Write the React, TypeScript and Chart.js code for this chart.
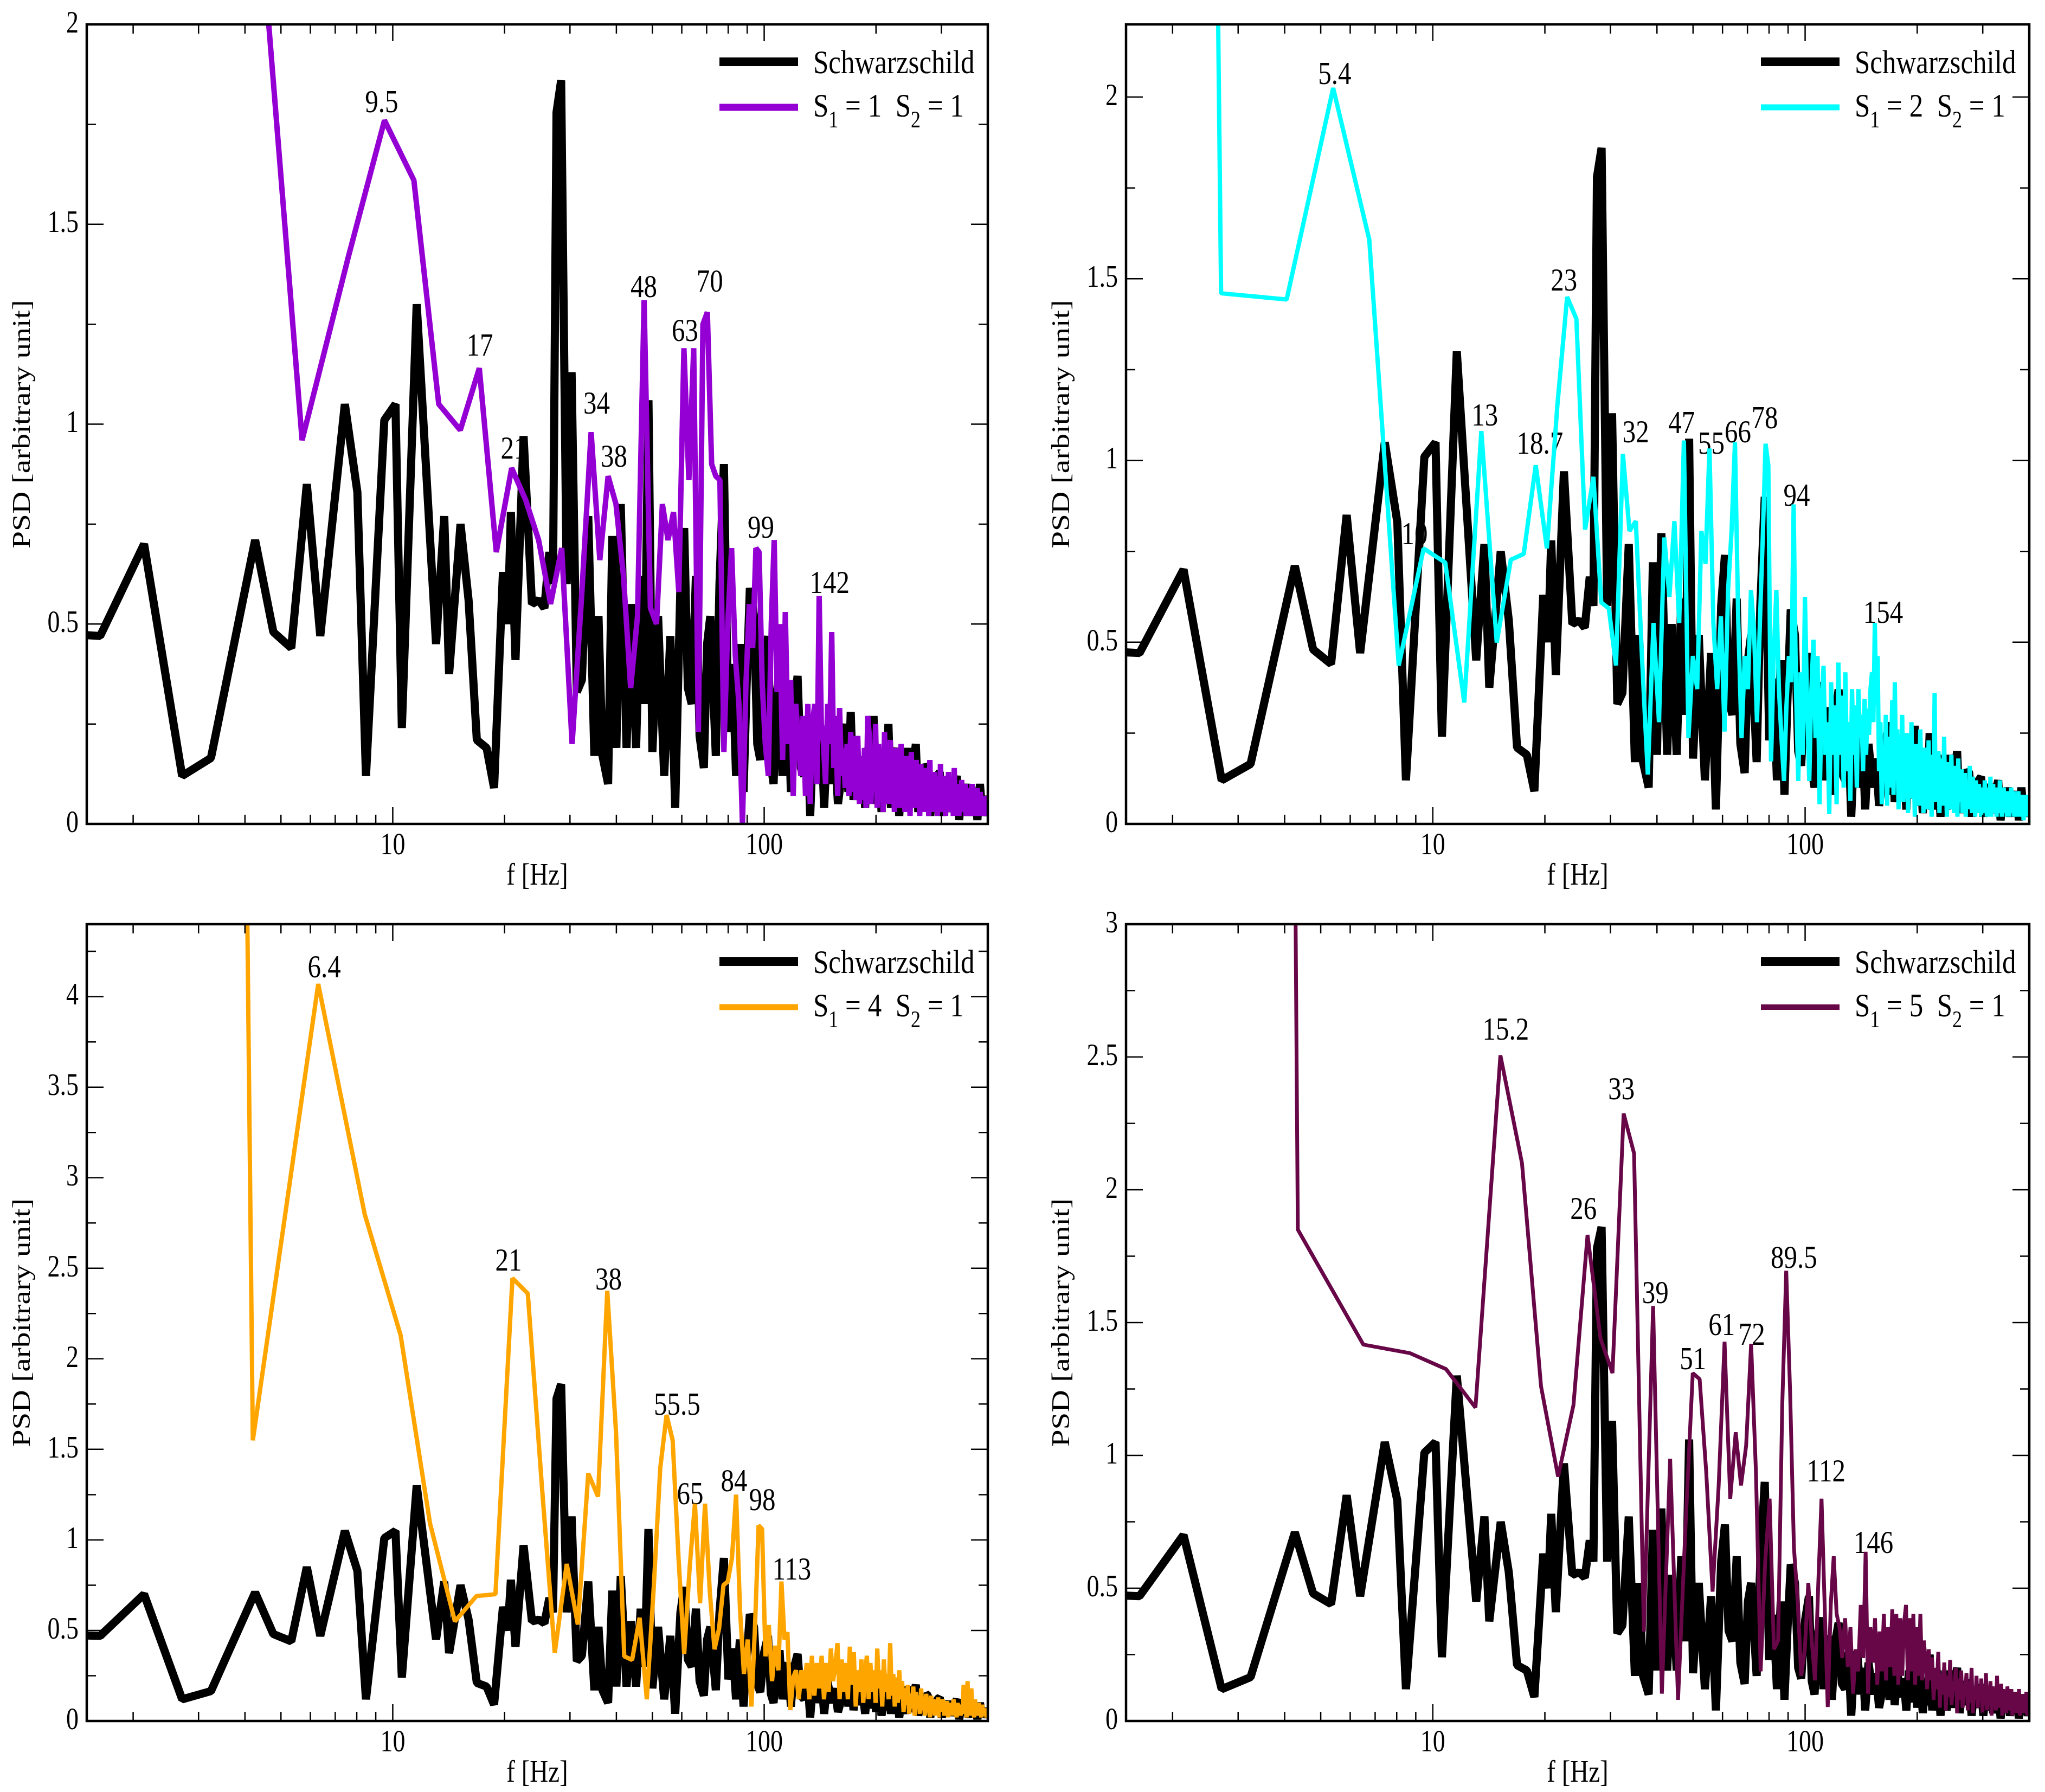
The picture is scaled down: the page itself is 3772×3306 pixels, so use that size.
import { useEffect, useRef } from "react";
import { Chart, registerables, type ChartConfiguration, type Plugin } from "chart.js";

Chart.register(...registerables);

const SERIF = '"Liberation Serif", "Times New Roman", serif';
// the original figure is stretched vertically; text is drawn with the same stretch
const TEXT_STRETCH = 1.22;

// Schwarzschild spectrum, identical in every panel
const schwFreq = [
  1.09, 1.63, 2.14, 2.71, 3.24, 4.26, 4.77, 5.33, 5.87, 6.38, 7.43, 8.03, 8.47, 9.49, 10.17, 10.58, 11.6,
  13.08, 13.76, 14.18, 15.22, 16.0, 16.84, 17.89, 18.74, 19.8, 20.4, 20.8, 21.4, 22.5, 23.7, 24.7, 25.6, 26.4, 27.0, 27.6, 28.4, 29.4, 30.3, 31.3,
  32.3, 33.6, 34.9, 35.8, 36.7, 38.0, 39.0, 40.0, 41.1, 42.6, 43.8, 45.2, 46.5, 47.6, 48.8, 50.0, 51.8, 53.8, 55.9, 57.6, 59.5,
  60.9, 62.3, 63.8, 65.5, 67.0, 68.8, 70.2, 71.6, 74.1, 75.8, 77.9, 80.1, 82.2, 84.0, 86.0, 88.0, 89.7, 91.5, 93.9, 95.8, 97.6,
  100, 102.4, 104.2, 106, 108, 110, 112, 114, 116, 118, 120.5, 123, 125.5, 128, 130.5, 133, 135.5, 138, 141, 143, 145, 148, 152, 155, 158, 160,
  163, 166, 168.5, 171, 174, 177, 181, 184, 187, 190, 194, 197, 200, 203.5, 207, 210, 213, 216, 219.5, 223, 227, 231, 235, 240, 244, 248, 252, 256,
  260, 264.5, 269, 272.5, 276, 280, 284, 288, 292.5, 297, 301, 305.5, 310, 315, 320, 325, 330, 335, 340, 345, 350, 355, 360, 365, 370, 375, 381, 386, 391, 396, 400,
];
const schwPsd = [
  0.48, 0.47, 0.7, 0.12, 0.165, 0.71, 0.48, 0.44, 0.85, 0.47, 1.05, 0.83, 0.12, 1.01, 1.05, 0.24, 1.3,
  0.45, 0.77, 0.375, 0.75, 0.56, 0.21, 0.19, 0.09, 0.63, 0.5, 0.78, 0.41, 0.97, 0.55, 0.56, 0.54, 0.68, 0.6, 1.78, 1.86, 0.6, 1.13, 0.33,
  0.36, 0.77, 0.17, 0.52, 0.17, 0.1, 0.72, 0.19, 0.8, 0.19, 0.55, 0.19, 0.62, 0.3, 1.06, 0.18, 0.52, 0.12, 0.47, 0.04, 0.6,
  0.74, 0.34, 0.3, 0.62, 0.22, 0.14, 0.45, 0.52, 0.17, 0.6, 0.9, 0.23, 0.4, 0.12, 0.45, 0.08, 0.35, 0.59, 0.52, 0.2, 0.16,
  0.38, 0.47, 0.15, 0.1, 0.32, 0.39, 0.12, 0.28, 0.32, 0.08, 0.3, 0.37, 0.14, 0.12, 0.26, 0.02, 0.22, 0.26, 0.1, 0.2, 0.04, 0.22, 0.1, 0.18, 0.05, 0.09,
  0.2, 0.25, 0.08, 0.28, 0.06, 0.18, 0.09, 0.16, 0.04, 0.19, 0.07, 0.27, 0.05, 0.18, 0.03, 0.12, 0.06, 0.25, 0.04, 0.15, 0.19, 0.02, 0.14, 0.04, 0.19, 0.05, 0.14, 0.2,
  0.03, 0.12, 0.06, 0.15, 0.14, 0.02, 0.11, 0.05, 0.12, 0.13, 0.02, 0.1, 0.04, 0.11, 0.03, 0.09, 0.12, 0.01, 0.09, 0.04, 0.1, 0.02, 0.08, 0.05, 0.09, 0.01, 0.1, 0.03, 0.07, 0.02, 0.05,
];

// S1 = 1, S2 = 1 : FFT bins of 1.9 Hz, starting at bin 2
const s11Df = 1.9;
const s11FirstBin = 2;
const s11Psd = [
  3.0, 0.96, 1.42, 1.76, 1.61, 1.05, 0.985, 1.14, 0.68, 0.89, 0.81, 0.71, 0.55, 0.69, 0.2, 0.58, 0.98, 0.66, 0.87, 0.8,
  0.62, 0.34, 0.52, 1.31, 0.54, 0.5, 0.8, 0.71, 0.78, 0.58, 1.19, 0.86, 1.19, 0.23, 1.25, 1.28,
  0.9, 0.87, 0.86, 0.18, 0.5, 0.69, 0.42, 0.3, 0.0, 0.35, 0.55, 0.44, 0.69, 0.68, 0.35, 0.2, 0.12, 0.5, 0.71, 0.33,
  0.5, 0.16, 0.53, 0.2, 0.36, 0.07, 0.3, 0.22, 0.12, 0.27, 0.07, 0.3, 0.05, 0.25, 0.3, 0.1, 0.57, 0.25, 0.2, 0.1,
  0.3, 0.2, 0.48, 0.14, 0.27, 0.07, 0.29, 0.12, 0.19, 0.09, 0.2, 0.07, 0.23, 0.08, 0.22, 0.06, 0.22, 0.05, 0.17, 0.06,
  0.19, 0.04, 0.27,
  0.22, 0.05, 0.18, 0.09, 0.25, 0.04, 0.2, 0.08, 0.14, 0.03, 0.23, 0.07, 0.17, 0.05, 0.21, 0.1, 0.13, 0.03, 0.19, 0.06,
  0.16, 0.04, 0.2, 0.08, 0.12, 0.03, 0.17, 0.06, 0.15, 0.02, 0.18, 0.07, 0.11, 0.04, 0.16, 0.05, 0.13, 0.02, 0.15, 0.06,
  0.1, 0.03, 0.14, 0.05, 0.12, 0.02, 0.16, 0.04, 0.09, 0.03, 0.13, 0.05, 0.11, 0.02, 0.12, 0.04, 0.15, 0.03, 0.08, 0.05,
  0.12, 0.02, 0.1, 0.04, 0.13, 0.03, 0.09, 0.05, 0.11, 0.02, 0.14, 0.03, 0.08, 0.04, 0.1, 0.02, 0.09, 0.05, 0.11, 0.03,
  0.07, 0.04, 0.1, 0.02, 0.08, 0.05, 0.09, 0.02, 0.07, 0.03, 0.1, 0.04, 0.06, 0.02, 0.08, 0.03, 0.09, 0.04, 0.06, 0.02,
  0.08, 0.03, 0.07, 0.05, 0.06, 0.02, 0.07, 0.03, 0.05, 0.04,
];
const s11PeakText = ["9.5", "17", "21", "34", "38", "48", "63", "70", "99", "142"];
const s11PeakFreq = [9.33, 17.15, 21.2, 35.4, 39.4, 47.4, 61.2, 71.4, 98, 150];
const s11PeakPsd = [1.78, 1.172, 0.914, 1.026, 0.893, 1.318, 1.208, 1.332, 0.716, 0.577];

// S1 = 2, S2 = 1 : bins of 1.35 Hz
const s21Df = 1.35;
const s21FirstBin = 1;
const s21Psd = [
  30, 1.46, 1.443, 2.025, 1.608, 0.436, 0.758, 0.719, 0.334, 1.081, 0.499, 0.727, 0.743, 0.987, 0.758, 1.15, 1.45, 1.39, 0.81, 0.955,
  0.609, 0.593, 0.436, 1.018, 0.806, 0.833, 0.462, 0.136, 0.553, 0.28,
  0.788, 0.625, 0.833, 0.553, 1.055, 0.236, 0.462, 0.371, 0.806, 0.716, 1.033, 0.553, 0.371, 0.571, 0.254, 0.643, 0.806, 1.05, 0.553, 0.236,
  0.462, 0.371, 0.643, 0.534, 0.28, 0.553, 0.788, 1.046, 0.987, 0.172,
  0.462, 0.643, 0.371, 0.236, 0.118, 0.326, 0.462, 0.39, 0.879, 0.371, 0.118, 0.417, 0.19, 0.625, 0.326, 0.118, 0.371, 0.507, 0.236, 0.462,
  0.054, 0.326, 0.435, 0.19, 0.28, 0.027, 0.39, 0.19, 0.326, 0.054,
  0.444, 0.19, 0.353, 0.1, 0.417, 0.145, 0.28, 0.063, 0.371, 0.19, 0.326, 0.1, 0.371, 0.236, 0.3, 0.145, 0.344, 0.19, 0.317, 0.245,
  0.371, 0.417, 0.28, 0.553, 0.326, 0.462, 0.145, 0.28, 0.054, 0.19,
  0.12, 0.3, 0.05, 0.24, 0.1, 0.2, 0.34, 0.08, 0.39, 0.15, 0.26, 0.04, 0.22, 0.12, 0.3, 0.06, 0.18, 0.1, 0.25, 0.03,
  0.2, 0.13, 0.28, 0.07, 0.16, 0.02, 0.22, 0.09,
  0.18, 0.05, 0.26, 0.12, 0.15, 0.03, 0.21, 0.1, 0.17, 0.04, 0.23, 0.08, 0.14, 0.02, 0.19, 0.11, 0.36, 0.06, 0.16, 0.09,
  0.2, 0.03, 0.13, 0.1, 0.18, 0.05, 0.24, 0.07, 0.12, 0.02, 0.17, 0.08, 0.14, 0.04, 0.19, 0.06, 0.11,
  0.03, 0.16, 0.09, 0.13, 0.02, 0.18, 0.06, 0.12, 0.08, 0.15, 0.03, 0.11, 0.07, 0.14, 0.02, 0.12, 0.09, 0.1, 0.04, 0.16,
  0.06, 0.09, 0.03, 0.13, 0.05, 0.1, 0.02, 0.12, 0.07, 0.08, 0.03, 0.11, 0.05, 0.09, 0.02, 0.1, 0.06,
  0.08, 0.03, 0.12, 0.05, 0.07, 0.02, 0.1, 0.04, 0.09, 0.06, 0.13, 0.02, 0.08, 0.05, 0.11, 0.03, 0.07, 0.04, 0.1, 0.02,
  0.09, 0.06, 0.08, 0.03, 0.12, 0.04, 0.07, 0.02, 0.09, 0.05, 0.1, 0.03, 0.06, 0.04, 0.08, 0.02, 0.09, 0.05,
  0.07, 0.02, 0.08, 0.04, 0.1, 0.03, 0.06, 0.05, 0.09, 0.02, 0.07, 0.04, 0.08, 0.03, 0.06, 0.02, 0.09, 0.04, 0.07, 0.03,
  0.05, 0.02, 0.08, 0.04, 0.06, 0.01, 0.07, 0.03, 0.05, 0.04, 0.08, 0.02, 0.05, 0.03, 0.06, 0.02,
];
const s21PeakText = ["5.4", "10", "13", "18.7", "23", "32", "47", "55", "66", "78", "94", "154"];
const s21PeakFreq = [5.45, 8.93, 13.8, 19.4, 22.5, 35.1, 46.6, 56, 66, 77.9, 94.9, 162];
const s21PeakPsd = [2.036, 0.77, 1.097, 1.018, 1.467, 1.05, 1.076, 1.018, 1.05, 1.089, 0.876, 0.554];

// S1 = 4, S2 = 1 : bins of 2.1 Hz
const s41Df = 2.1;
const s41FirstBin = 1;
const s41Psd = [
  60, 1.55, 4.07, 2.8, 2.13, 1.09, 0.55, 0.69, 0.7, 2.445, 2.36, 1.3, 0.376, 0.867, 0.533, 1.367, 1.239, 2.376, 1.6, 0.357,
  0.337, 0.57, 0.12, 0.73, 1.396, 1.69, 1.55, 0.9, 0.37, 0.847,
  1.2, 0.65, 1.2, 0.71, 0.396, 0.51, 0.75, 0.77, 0.9, 1.25, 0.61, 0.26, 0.45, 0.08, 0.53, 1.08, 1.06, 0.357, 0.53, 0.22,
  0.416, 0.28, 0.77, 0.45, 0.49, 0.06, 0.24, 0.28, 0.12, 0.28,
  0.18, 0.32, 0.12, 0.36, 0.14, 0.32, 0.18, 0.36, 0.12, 0.32, 0.16, 0.4, 0.22, 0.3, 0.43, 0.12, 0.34, 0.16, 0.32, 0.12,
  0.41, 0.2, 0.38, 0.08, 0.28, 0.16, 0.34, 0.1, 0.26, 0.36,
  0.12, 0.32, 0.16, 0.28, 0.1, 0.4, 0.18, 0.28, 0.08, 0.34, 0.16, 0.26, 0.12, 0.43, 0.14, 0.26, 0.08, 0.24, 0.1, 0.28,
  0.12, 0.22, 0.05, 0.18, 0.09, 0.2, 0.04, 0.15, 0.07, 0.19, 0.03, 0.16, 0.08, 0.14, 0.04, 0.18, 0.06, 0.12, 0.03, 0.15,
  0.07, 0.11, 0.02, 0.14, 0.05, 0.12, 0.03, 0.1, 0.06, 0.13, 0.02, 0.09, 0.05, 0.12, 0.03, 0.08, 0.06, 0.11, 0.02, 0.1,
  0.04, 0.09, 0.03, 0.12, 0.05, 0.08, 0.02, 0.1, 0.04, 0.07, 0.03, 0.09, 0.05, 0.2, 0.04, 0.08, 0.02, 0.22, 0.06, 0.1,
  0.03, 0.18, 0.05, 0.08, 0.02, 0.12, 0.04, 0.07, 0.03, 0.1, 0.05, 0.08, 0.02, 0.09, 0.04, 0.06, 0.03, 0.07, 0.02, 0.05,
];
const s41PeakText = ["6.4", "21", "38", "55.5", "65", "84", "98", "113"];
const s41PeakFreq = [6.54, 20.5, 38.1, 58.3, 63.2, 83, 98.8, 118.6];
const s41PeakPsd = [4.107, 2.486, 2.382, 1.69, 1.196, 1.268, 1.164, 0.78];

// S1 = 5, S2 = 1 : bins of 2.17 Hz
const s51Df = 2.17;
const s51FirstBin = 1;
const s51Psd = [
  60, 1.85, 1.417, 1.385, 1.325, 1.18, 2.506, 2.1, 1.26, 0.92, 1.19, 1.83, 1.44, 1.31, 2.287, 2.137, 0.337, 1.562, 0.103, 0.987,
  0.08, 0.737, 1.31, 1.287, 0.937, 0.487, 0.887, 1.428, 0.837, 1.087,
  0.887, 1.037, 1.42, 0.937, 0.187, 0.6, 0.837, 0.27, 0.303, 1.187, 1.695, 1.237, 0.653, 0.453, 0.17, 0.27, 0.52, 0.303, 0.153, 0.52,
  0.837, 0.437, 0.053, 0.437, 0.62, 0.403, 0.353, 0.237, 0.387, 0.203,
  0.353, 0.103, 0.27, 0.187, 0.437, 0.237, 0.637, 0.103, 0.353, 0.22, 0.387, 0.137, 0.337, 0.187, 0.403, 0.153, 0.353, 0.203, 0.42, 0.17,
  0.403, 0.137, 0.387, 0.17, 0.37, 0.437, 0.153, 0.387, 0.187, 0.403, 0.137, 0.353, 0.17, 0.403, 0.153, 0.303, 0.237, 0.12, 0.27, 0.153,
  0.24, 0.08, 0.2, 0.12, 0.26, 0.05, 0.18, 0.1, 0.22, 0.04, 0.17, 0.09, 0.23, 0.06, 0.15, 0.11, 0.2, 0.03, 0.16, 0.08,
  0.19, 0.05, 0.14, 0.1, 0.18, 0.04, 0.15, 0.07, 0.2, 0.03, 0.13, 0.08, 0.17, 0.05, 0.12, 0.09, 0.16, 0.03, 0.14, 0.06,
  0.18, 0.04, 0.11, 0.08, 0.15, 0.02, 0.13, 0.06, 0.12, 0.04, 0.17, 0.05, 0.1, 0.07, 0.14, 0.02, 0.12, 0.05, 0.11, 0.03,
  0.13, 0.06, 0.09, 0.04, 0.12, 0.02, 0.1, 0.05, 0.11, 0.03, 0.09, 0.06, 0.12, 0.02, 0.08, 0.05, 0.1, 0.03, 0.09, 0.04,
  0.11, 0.02, 0.07, 0.05,
];
const s51PeakText = ["15.2", "33", "26", "39", "51", "61", "72", "89.5", "112", "146"];
const s51PeakFreq = [15.7, 32.1, 25.4, 39.6, 50, 59.7, 71.9, 93.3, 113.8, 152.6];
const s51PeakPsd = [2.566, 2.34, 1.89, 1.574, 1.325, 1.454, 1.417, 1.707, 0.902, 0.633];

// axis ticks
const xLabelTicks = [10, 100];
const xMinorTicks = [2, 3, 4, 5, 6, 7, 8, 9, 20, 30, 40, 50, 60, 70, 80, 90, 200, 300];
const yTicksS11 = [0, 0.5, 1, 1.5, 2];
const yTicksS21 = [0, 0.5, 1, 1.5, 2];
const yTicksS41 = [0, 0.5, 1, 1.5, 2, 2.5, 3, 3.5, 4];
const yTicksS51 = [0, 0.5, 1, 1.5, 2, 2.5, 3];

type Ctx = CanvasRenderingContext2D;

function stretchedText(
  ctx: Ctx,
  text: string,
  x: number,
  y: number,
  size: number,
  align: CanvasTextAlign,
  baseline: CanvasTextBaseline,
  rotated = false,
): void {
  ctx.save();
  ctx.translate(x, y);
  ctx.scale(1, TEXT_STRETCH);
  if (rotated) ctx.rotate(-Math.PI / 2);
  ctx.font = `${size}px ${SERIF}`;
  ctx.textAlign = align;
  ctx.textBaseline = baseline;
  ctx.fillStyle = "#000";
  ctx.fillText(text, 0, 0);
  ctx.restore();
}

interface PanelProps {
  left: number;
  top: number;
  width: number;
  height: number;
  yAxisWidth: number;
  xAxisHeight: number;
  padTop: number;
  padRight: number;
  psd: number[];
  firstBin: number;
  df: number;
  color: string;
  lineWidth: number;
  s1: number;
  yMax: number;
  yTicks: number[];
  peakText: string[];
  peakFreq: number[];
  peakPsd: number[];
}

function SpectrumPanel(props: PanelProps): JSX.Element {
  const canvasRef = useRef<HTMLCanvasElement>(null);
  const chartRef = useRef<Chart | null>(null);

  useEffect(() => {
    const canvas = canvasRef.current;
    if (!canvas) return;
    const p = props;

    const colored = p.psd.map((v, i) => ({ x: (p.firstBin + i) * p.df, y: v }));
    const black = schwFreq.map((f, i) => ({ x: f, y: schwPsd[i] }));

    const yMinor: number[] = [];
    for (const v of p.yTicks) {
      if (v + 0.25 < p.yMax - 0.01) yMinor.push(v + 0.25);
    }

    // peak labels sit under the curves, as in the original figure
    const peakLabels: Plugin = {
      id: "peakLabels",
      beforeDatasetsDraw(chart) {
        const { ctx, scales } = chart;
        p.peakText.forEach((t, i) => {
          stretchedText(
            ctx,
            t,
            scales.x.getPixelForValue(p.peakFreq[i]),
            scales.y.getPixelForValue(p.peakPsd[i]),
            49,
            "center",
            "alphabetic",
          );
        });
      },
    };

    // closed frame with inward ticks on all four sides, tick labels, titles and legend
    const frameAndLegend: Plugin = {
      id: "frameAndLegend",
      afterDraw(chart) {
        const { ctx, chartArea: a, scales } = chart;
        if (!a) return;
        ctx.save();
        ctx.strokeStyle = "#000";
        ctx.lineCap = "butt";

        const major = 31;
        const minor = 17;
        ctx.lineWidth = 2.5;
        ctx.beginPath();
        const xTick = (v: number, len: number) => {
          const px = scales.x.getPixelForValue(v);
          ctx.moveTo(px, a.bottom);
          ctx.lineTo(px, a.bottom - len);
          ctx.moveTo(px, a.top);
          ctx.lineTo(px, a.top + len);
        };
        const yTick = (v: number, len: number) => {
          const py = scales.y.getPixelForValue(v);
          ctx.moveTo(a.left, py);
          ctx.lineTo(a.left + len, py);
          ctx.moveTo(a.right, py);
          ctx.lineTo(a.right - len, py);
        };
        xLabelTicks.forEach((v) => xTick(v, major));
        xMinorTicks.forEach((v) => xTick(v, minor));
        p.yTicks.forEach((v) => yTick(v, major));
        yMinor.forEach((v) => yTick(v, minor));
        ctx.stroke();

        ctx.lineWidth = 4.5;
        ctx.strokeRect(a.left, a.top, a.right - a.left, a.bottom - a.top);

        // tick labels and axis titles
        xLabelTicks.forEach((v) => {
          stretchedText(ctx, String(v), scales.x.getPixelForValue(v), a.bottom + 56, 46, "center", "alphabetic");
        });
        p.yTicks.forEach((v) => {
          stretchedText(ctx, String(v), a.left - 15, scales.y.getPixelForValue(v), 46, "right", "middle");
        });
        stretchedText(ctx, "f [Hz]", (a.left + a.right) / 2, a.bottom + 112, 47, "center", "alphabetic");
        stretchedText(ctx, "PSD [arbitrary unit]", a.left - 117, (a.top + a.bottom) / 2, 47, "center", "middle", true);

        // legend
        const x0 = a.right - 495;
        const x1 = a.right - 350;
        const tx = a.right - 322;
        const row1 = a.top + 69;
        const row2 = a.top + 153;
        ctx.lineWidth = 16;
        ctx.beginPath();
        ctx.moveTo(x0, row1);
        ctx.lineTo(x1, row1);
        ctx.stroke();
        ctx.strokeStyle = p.color;
        ctx.lineWidth = p.lineWidth + 3;
        ctx.beginPath();
        ctx.moveTo(x0, row2);
        ctx.lineTo(x1, row2);
        ctx.stroke();

        stretchedText(ctx, "Schwarzschild", tx, row1 + 21, 51, "left", "alphabetic");

        let x = tx;
        const base = row2 + 17;
        const part = (t: string, sub: boolean) => {
          const size = sub ? 36 : 51;
          stretchedText(ctx, t, x, sub ? base + 20 : base, size, "left", "alphabetic");
          ctx.font = `${size}px ${SERIF}`;
          x += ctx.measureText(t).width;
        };
        part("S", false);
        part("1", true);
        part(` = ${p.s1}  S`, false);
        part("2", true);
        part(" = 1", false);
        ctx.restore();
      },
    };

    const config: ChartConfiguration = {
      type: "line",
      data: {
        datasets: [
          {
            data: colored,
            borderColor: p.color,
            borderWidth: p.lineWidth,
            pointRadius: 0,
            tension: 0,
            fill: false,
            borderJoinStyle: "bevel",
            order: 0,
            clip: { left: 0, top: 0, right: 0, bottom: 8 },
          },
          {
            data: black,
            borderColor: "#000",
            borderWidth: 15,
            pointRadius: 0,
            tension: 0,
            fill: false,
            borderJoinStyle: "bevel",
            order: 1,
            clip: { left: 0, top: 0, right: 0, bottom: 8 },
          },
        ],
      },
      options: {
        responsive: true,
        maintainAspectRatio: false,
        animation: false,
        events: [],
        layout: { padding: { top: p.padTop, right: p.padRight, left: 0, bottom: 0 } },
        plugins: {
          legend: { display: false },
          tooltip: { enabled: false },
        },
        scales: {
          x: {
            type: "logarithmic",
            min: 1.5,
            max: 400,
            grid: { display: false, drawTicks: false },
            border: { display: false },
            afterBuildTicks: (s) => {
              s.ticks = xLabelTicks.map((v) => ({ value: v }));
            },
            afterFit: (s) => {
              s.height = p.xAxisHeight;
            },
            ticks: { display: false },
          },
          y: {
            type: "linear",
            min: 0,
            max: p.yMax,
            grid: { display: false, drawTicks: false },
            border: { display: false },
            afterBuildTicks: (s) => {
              s.ticks = p.yTicks.map((v) => ({ value: v }));
            },
            afterFit: (s) => {
              s.width = p.yAxisWidth;
            },
            ticks: { display: false },
          },
        },
      },
      plugins: [peakLabels, frameAndLegend],
    };

    if (chartRef.current) {
      chartRef.current.destroy();
    }
    Chart.getChart(canvas)?.destroy();
    chartRef.current = new Chart(canvas, config);

    return () => {
      chartRef.current?.destroy();
      chartRef.current = null;
    };
  }, []);

  return (
    <div
      style={{
        position: "absolute",
        left: props.left,
        top: props.top,
        width: props.width,
        height: props.height,
      }}
    >
      <canvas ref={canvasRef} />
    </div>
  );
}

export default function App(): JSX.Element {
  const W = 1886;
  const H = 1653;
  return (
    <div
      style={{
        position: "absolute",
        left: 0,
        top: 0,
        width: 3772,
        height: 3306,
        background: "#fff",
        overflow: "hidden",
      }}
    >
      <SpectrumPanel
        left={0}
        top={0}
        width={W}
        height={H}
        yAxisWidth={160}
        xAxisHeight={133}
        padTop={45}
        padRight={64}
        psd={s11Psd}
        firstBin={s11FirstBin}
        df={s11Df}
        color="rgb(148,0,211)"
        lineWidth={10}
        s1={1}
        yMax={2}
        yTicks={yTicksS11}
        peakText={s11PeakText}
        peakFreq={s11PeakFreq}
        peakPsd={s11PeakPsd}
      />
      <SpectrumPanel
        left={W}
        top={0}
        width={W}
        height={H}
        yAxisWidth={191}
        xAxisHeight={133}
        padTop={45}
        padRight={29}
        psd={s21Psd}
        firstBin={s21FirstBin}
        df={s21Df}
        color="rgb(0,255,255)"
        lineWidth={8}
        s1={2}
        yMax={2.2}
        yTicks={yTicksS21}
        peakText={s21PeakText}
        peakFreq={s21PeakFreq}
        peakPsd={s21PeakPsd}
      />
      <SpectrumPanel
        left={0}
        top={H}
        width={W}
        height={H}
        yAxisWidth={160}
        xAxisHeight={131}
        padTop={52}
        padRight={64}
        psd={s41Psd}
        firstBin={s41FirstBin}
        df={s41Df}
        color="rgb(255,165,0)"
        lineWidth={8}
        s1={4}
        yMax={4.4}
        yTicks={yTicksS41}
        peakText={s41PeakText}
        peakFreq={s41PeakFreq}
        peakPsd={s41PeakPsd}
      />
      <SpectrumPanel
        left={W}
        top={H}
        width={W}
        height={H}
        yAxisWidth={191}
        xAxisHeight={131}
        padTop={52}
        padRight={29}
        psd={s51Psd}
        firstBin={s51FirstBin}
        df={s51Df}
        color="rgb(103,7,72)"
        lineWidth={7}
        s1={5}
        yMax={3}
        yTicks={yTicksS51}
        peakText={s51PeakText}
        peakFreq={s51PeakFreq}
        peakPsd={s51PeakPsd}
      />
    </div>
  );
}
